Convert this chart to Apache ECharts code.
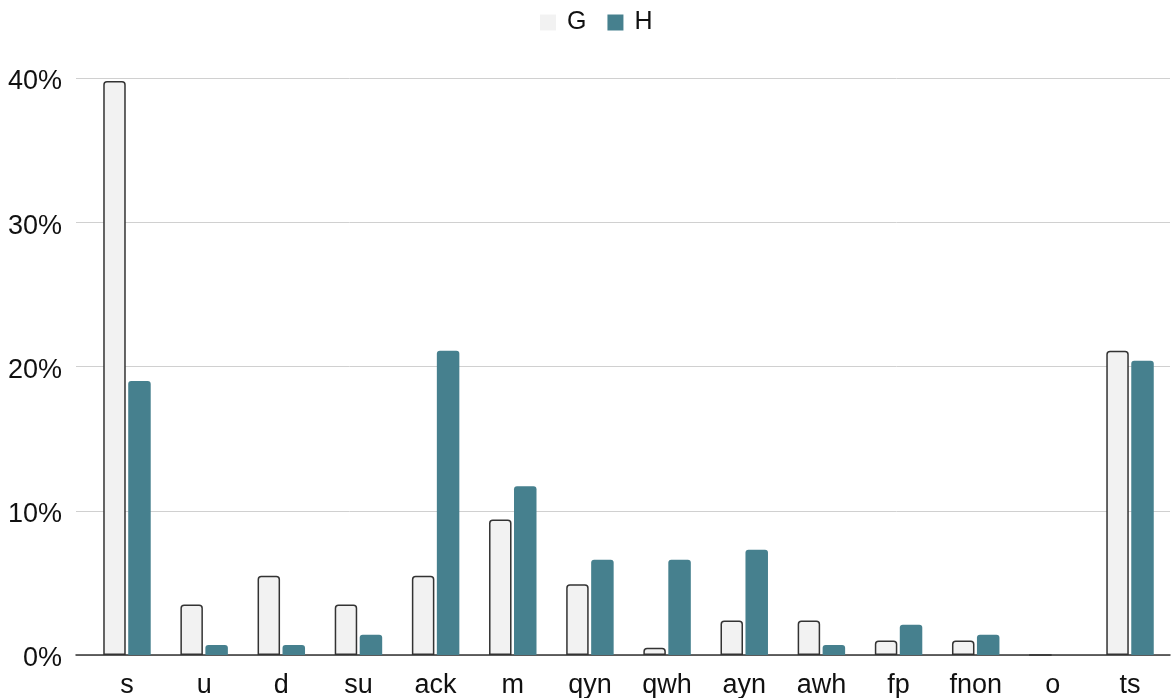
<!DOCTYPE html>
<html>
<head>
<meta charset="utf-8">
<script src="https://cdn.jsdelivr.net/npm/echarts@6/dist/echarts.min.js"></script>
<style>
html,body{margin:0;padding:0;background:#fff;}
#chart{width:1172px;height:698px;}
</style>
</head>
<body>
<div id="chart"></div>
<script>
const categories = ['s','u','d','su','ack','m','qyn','qwh','ayn','awh','fp','fnon','o','ts'];
const seriesNames = ['G','H'];
const valuesG = [39.8, 3.5, 5.5, 3.5, 5.5, 9.4, 4.9, 0.5, 2.4, 2.4, 1.0, 1.0, 0, 21.1];
const valuesH = [19.0, 0.7, 0.7, 1.4, 21.1, 11.7, 6.6, 6.6, 7.3, 0.7, 2.1, 1.4, 0, 20.4];
const yTicks = [0, 10, 20, 30, 40];

const font = 'Arial, "Liberation Sans", sans-serif';
const chart = echarts.init(document.getElementById('chart'));
const yMin = yTicks[0], yMax = yTicks[yTicks.length - 1], yStep = yTicks[1] - yTicks[0];

chart.setOption({
  animation: false,
  backgroundColor: '#ffffff',
  legend: {
    top: 5,
    left: 535,
    itemWidth: 16,
    itemHeight: 16,
    itemGap: 21,
    icon: 'rect',
    itemStyle: { borderWidth: 0 },
    textStyle: { fontFamily: font, fontSize: 25, color: '#111', padding: [2, 0, 0, 6] },
    data: seriesNames
  },
  grid: [
    { left: 76, right: 2, top: 78, bottom: 43, containLabel: false, outerBoundsMode: 'none' },
    { left: 88.4, right: 3.4, top: 78, bottom: 43, containLabel: false, outerBoundsMode: 'none' }
  ],
  xAxis: [
    {
      gridIndex: 0, type: 'value', min: 0, max: 1,
      axisLine: { show: true, lineStyle: { color: '#333', width: 1.5 } },
      axisTick: { show: false }, axisLabel: { show: false }, splitLine: { show: false }
    },
    {
      gridIndex: 1, type: 'category', data: categories,
      axisLine: { show: false }, axisTick: { show: false },
      axisLabel: { fontFamily: font, fontSize: 27, color: '#111', margin: 17 }
    }
  ],
  yAxis: [
    {
      gridIndex: 0, type: 'value', min: yMin, max: yMax, interval: yStep,
      axisLine: { show: false }, axisTick: { show: false },
      axisLabel: { formatter: '{value}%', fontFamily: font, fontSize: 27, color: '#111', margin: 14,
                   verticalAlign: 'top', lineHeight: 8 },
      splitLine: { lineStyle: { color: '#d0d0d0', width: 1 } }
    },
    {
      gridIndex: 1, type: 'value', min: yMin, max: yMax, interval: yStep, show: false,
      splitLine: { show: false }
    }
  ],
  series: [
    {
      name: seriesNames[0], type: 'bar', xAxisIndex: 1, yAxisIndex: 1,
      data: valuesG, barWidth: 22.5, barGap: '11%',
      itemStyle: { color: '#f2f2f2', borderColor: '#333', borderWidth: 1.5, borderRadius: [3, 3, 0, 0] }
    },
    {
      name: seriesNames[1], type: 'bar', xAxisIndex: 1, yAxisIndex: 1,
      data: valuesH, barWidth: 22.5, barGap: '11%',
      itemStyle: { color: '#46808e', borderRadius: [3, 3, 0, 0] }
    }
  ]
});
</script>
</body>
</html>
